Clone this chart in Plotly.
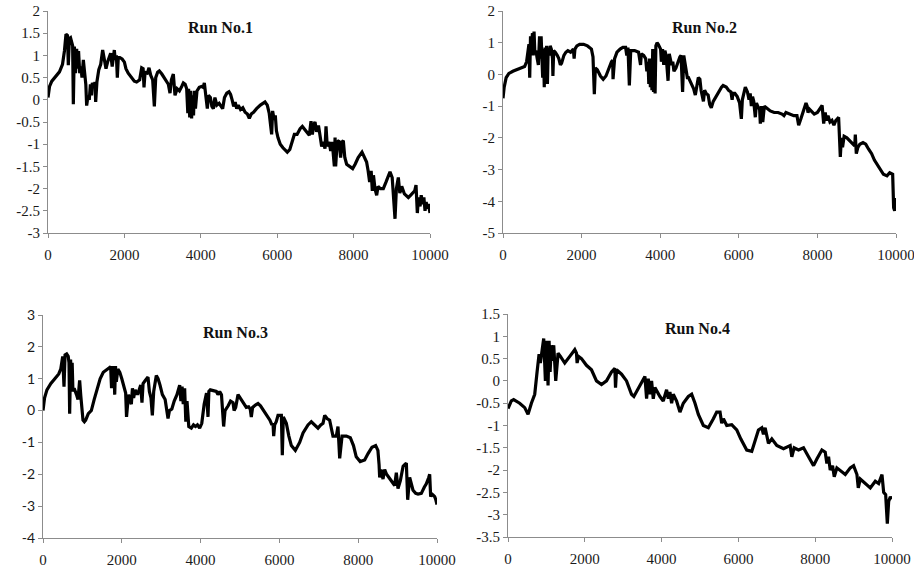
import plotly.graph_objects as go

# ---- Run No.1 ----
run1_x = [0, 40, 100, 200, 300, 380, 430, 471, 510, 532, 560, 590, 620, 645, 663, 690, 720, 750, 780, 800,
          830, 860, 890, 925, 960, 990, 1012, 1050, 1080, 1110, 1140, 1160, 1200, 1230, 1248, 1280, 1330, 1380,
          1431, 1470, 1518, 1560, 1600, 1640, 1680, 1736, 1760, 1790, 1815, 1840, 1880, 1940, 2000, 2040, 2100,
          2180, 2260, 2320, 2400, 2452, 2490, 2513, 2540, 2600, 2644, 2690, 2740, 2784, 2820, 2870, 2914, 2980,
          3040, 3100, 3150, 3194, 3230, 3281, 3325, 3380, 3440, 3500, 3543, 3590, 3630, 3660, 3680, 3710, 3730,
          3760, 3780, 3810, 3830, 3860, 3900, 3960, 4020, 4060, 4093, 4130, 4171, 4200, 4250, 4290, 4328, 4370,
          4420, 4480, 4530, 4572, 4620, 4680, 4738, 4780, 4820, 4860, 4900, 4939, 4980, 5040, 5100, 5160, 5220,
          5270, 5320, 5380, 5460, 5560, 5681, 5740, 5790, 5855, 5880, 5920, 5950, 5980, 6020, 6080, 6150, 6265,
          6330, 6400, 6449, 6520, 6600, 6658, 6740, 6800, 6841, 6885, 6920, 6960, 6990, 7030, 7080, 7120, 7164,
          7210, 7251, 7278, 7310, 7360, 7400, 7440, 7496, 7515, 7530, 7570, 7618, 7660, 7700, 7731, 7770, 7818,
          7870, 7920, 7975, 8040, 8120, 8220, 8260, 8298, 8340, 8380, 8420, 8460, 8490, 8520, 8560, 8604, 8640,
          8700, 8778, 8850, 8910, 8953, 9010, 9050, 9084, 9120, 9171, 9210, 9260, 9330, 9380, 9433, 9490, 9540,
          9600, 9634, 9668, 9700, 9740, 9770, 9810, 9840, 9870, 9900, 9930, 9960, 10000]
run1_y = [0.05, 0.3, 0.42, 0.52, 0.63, 0.8, 1.1, 1.48, 1.45, 0.78, 1.38, 1.4, 1.3, 1.22, -0.1, 1.2, 0.6, 1.15, 0.7, 1.1,
          0.6, 0.75, 0.5, 0.9, 0.6, 0.35, -0.13, 0.1, 0.0, 0.35, 0.1, 0.38, 0.3, 0.4, -0.05, 0.4, 0.68, 0.8,
          1.12, 0.95, 0.7, 0.85, 0.95, 1.05, 0.75, 1.12, 0.9, 1.0, 0.5, 0.95, 0.95, 0.92, 0.85, 0.7, 0.6,
          0.5, 0.42, 0.4, 0.45, 0.72, 0.7, 0.28, 0.62, 0.6, 0.72, 0.55, 0.45, -0.15, 0.5, 0.62, 0.65, 0.58,
          0.5, 0.42, 0.35, 0.15, 0.45, 0.58, 0.1, 0.25, 0.2, 0.3, 0.38, 0.35, 0.25, -0.3, 0.25, -0.4, 0.2,
          -0.42, 0.1, -0.35, 0.2, -0.2, 0.2, 0.28, 0.3, 0.28, 0.38, 0.1, -0.2, 0.1, 0.05, -0.15, -0.2, 0.05,
          -0.12, -0.08, -0.15, -0.2, 0.05, 0.15, 0.18, 0.12, 0.0, -0.15, -0.05, -0.2, -0.12, -0.22, -0.18, -0.28, -0.32,
          -0.42, -0.32, -0.28, -0.2, -0.12, -0.05, -0.12, -0.3, -0.78, -0.25, -0.45, -0.35, -0.7, -0.85, -1.0, -1.08, -1.18,
          -1.12, -0.95, -0.78, -0.78, -0.65, -0.6, -0.68, -0.75, -0.8, -0.48, -0.78, -0.55, -0.5, -0.72, -0.58, -0.8, -1.05,
          -0.95, -1.1, -0.6, -1.05, -0.95, -1.15, -0.95, -1.5, -0.85, -1.5, -0.95, -0.92, -1.3, -0.95, -0.92, -1.3, -1.45,
          -1.48, -1.52, -1.55, -1.45, -1.3, -1.18, -1.25, -1.3, -1.4, -1.6, -1.85, -1.6, -2.05, -1.7, -2.0, -2.15, -1.95,
          -2.0, -2.0, -1.85, -1.7, -1.62, -1.75, -2.2, -2.68, -2.0, -1.75, -2.1, -1.95, -2.12, -2.15, -2.2, -2.15, -2.1,
          -2.05, -1.92, -2.55, -2.2, -2.4, -2.15, -2.35, -2.2, -2.5, -2.3, -2.45, -2.35, -2.55]

# ---- Run No.2 ----
run2_x = [0, 30, 80, 150, 250, 350, 450, 550, 600, 640, 660, 680, 700, 730, 750, 770, 790, 810, 840, 870,
          900, 930, 950, 970, 990, 1010, 1030, 1050, 1070, 1090, 1110, 1130, 1150, 1180, 1200, 1230, 1260, 1270,
          1290, 1330, 1380, 1420, 1460, 1490, 1550, 1600, 1650, 1720, 1790, 1810, 1830, 1880, 1950, 2050, 2150,
          2250, 2290, 2324, 2350, 2400, 2480, 2550, 2620, 2700, 2760, 2790, 2800, 2840, 2900, 2980, 3050, 3120,
          3150, 3180, 3215, 3250, 3350, 3450, 3500, 3520, 3580, 3630, 3660, 3690, 3710, 3730, 3750, 3770, 3790,
          3810, 3830, 3850, 3870, 3890, 3920, 3950, 3980, 4010, 4030, 4060, 4090, 4120, 4150, 4200, 4230, 4260,
          4290, 4320, 4350, 4400, 4450, 4500, 4530, 4570, 4600, 4630, 4660, 4690, 4720, 4760, 4800, 4850, 4894,
          4930, 4970, 5010, 5040, 5100, 5130, 5170, 5220, 5260, 5300, 5350, 5420, 5500, 5560, 5600, 5680, 5740,
          5800, 5830, 5850, 5900, 5960, 6020, 6065, 6090, 6130, 6166, 6220, 6260, 6290, 6320, 6350, 6380, 6420,
          6450, 6480, 6530, 6548, 6580, 6610, 6650, 6700, 6800, 6900, 7000, 7100, 7150, 7200, 7300, 7400, 7480,
          7523, 7580, 7650, 7710, 7740, 7760, 7800, 7850, 7920, 8000, 8050, 8120, 8160, 8200, 8230, 8270, 8320,
          8370, 8420, 8470, 8510, 8540, 8583, 8610, 8640, 8680, 8750, 8830, 8900, 8950, 8965, 8990, 9030, 9080,
          9160, 9230, 9300, 9380, 9450, 9530, 9600, 9680, 9770, 9840, 9915, 9940, 9966, 9985, 10000]
run2_y = [-0.75, -0.4, -0.1, 0.03, 0.1, 0.15, 0.2, 0.25, 0.4, 0.9, 0.95, -0.1, 1.2, 1.0, 1.3, 0.6, 1.35, 0.7, 0.75, 0.5,
          0.3, 1.2, 0.5, 1.2, 0.6, -0.1, 0.8, -0.4, 0.85, -0.2, 0.9, -0.3, 0.85, 0.6, 0.9, 0.8, 0.5, -0.05,
          0.75, 0.7, 0.6, 0.5, 0.3, 0.35, 0.6, 0.7, 0.75, 0.7, 0.8, 0.5, 0.8, 0.9, 0.95, 0.95, 0.9,
          0.8, 0.55, -0.62, 0.2, 0.15, -0.05, -0.15, -0.05, 0.25, 0.4, 0.45, -0.15, 0.5, 0.7, 0.8, 0.85, 0.85,
          0.6, 0.85, -0.35, 0.75, 0.75, 0.7, 0.3, 0.65, 0.6, 0.5, 0.1, 0.4, -0.3, 0.5, -0.4, 0.4, -0.5,
          0.8, -0.55, 0.5, -0.6, 0.9, 1.0, 0.95, 0.85, 0.8, 0.4, 0.8, 0.3, 0.75, 0.6, -0.2, 0.65, 0.4,
          0.3, 0.4, 0.1, 0.2, 0.4, 0.55, 0.6, -0.55, 0.6, 0.4, 0.2, -0.1, -0.1, -0.2, -0.3, -0.45, -0.65,
          -0.3, -0.1, -0.15, -0.5, -0.85, -0.5, -0.6, -0.65, -0.95, -1.05, -0.85, -0.7, -0.5, -0.4, -0.35, -0.4, -0.5,
          -0.55, -0.8, -0.6, -0.6, -0.7, -0.9, -1.4, -0.8, -0.55, -0.4, -0.55, -0.8, -0.6, -1.0, -0.7, -0.85, -1.35,
          -0.9, -1.0, -1.1, -1.55, -1.0, -1.5, -1.0, -1.05, -1.15, -1.2, -1.2, -1.25, -1.3, -1.2, -1.25, -1.3, -1.3,
          -1.6, -1.4, -1.1, -0.9, -1.0, -1.2, -1.1, -1.15, -1.25, -1.2, -1.1, -0.98, -1.55, -1.2, -1.45, -1.3, -1.5,
          -1.45, -1.6, -1.45, -1.4, -1.35, -2.6, -2.0, -2.3, -1.95, -2.0, -2.1, -2.2, -2.25, -1.9, -2.5, -2.3, -2.2,
          -2.15, -2.2, -2.35, -2.5, -2.7, -2.85, -3.0, -3.15, -3.2, -3.1, -3.15, -4.2, -4.3, -3.9, -4.0]

# ---- Run No.3 ----
run3_x = [0, 40, 100, 200, 300, 400, 450, 480, 500, 533, 560, 600, 640, 660, 677, 700, 720, 740, 760, 790,
          820, 850, 888, 930, 960, 990, 1015, 1050, 1083, 1150, 1227, 1300, 1380, 1450, 1530, 1620, 1692, 1720,
          1740, 1760, 1780, 1800, 1820, 1840, 1861, 1900, 1950, 2000, 2060, 2098, 2120, 2170, 2242, 2270, 2300,
          2340, 2400, 2480, 2512, 2540, 2600, 2665, 2700, 2740, 2775, 2810, 2876, 2920, 2970, 3030, 3100, 3173,
          3210, 3270, 3330, 3400, 3469, 3500, 3530, 3560, 3595, 3625, 3655, 3700, 3765, 3820, 3870, 3920, 3976,
          4030, 4090, 4150, 4188, 4210, 4247, 4320, 4400, 4440, 4484, 4530, 4560, 4585, 4620, 4653, 4700, 4760,
          4822, 4850, 4890, 4950, 5000, 5060, 5100, 5160, 5220, 5260, 5287, 5320, 5400, 5457, 5520, 5600, 5680,
          5760, 5810, 5838, 5855, 5880, 5920, 5965, 6050, 6074, 6100, 6176, 6240, 6303, 6404, 6514, 6600, 6726,
          6810, 6900, 6980, 7050, 7107, 7150, 7210, 7275, 7360, 7445, 7487, 7530, 7590, 7700, 7800, 7880, 7950,
          8050, 8164, 8250, 8350, 8443, 8500, 8530, 8545, 8580, 8630, 8672, 8720, 8780, 8840, 8926, 8968, 9010,
          9070, 9140, 9180, 9222, 9256, 9306, 9391, 9460, 9518, 9602, 9680, 9729, 9790, 9814, 9839, 9870, 9898,
          9941, 9970, 10000]
run3_y = [0.0, 0.4, 0.65, 0.85, 1.0, 1.15, 1.3, 1.5, 1.7, 0.75, 1.75, 1.78, 1.7, 1.5, -0.1, 1.6, 1.0, 1.5, 0.6, 0.7,
          0.55, 0.5, 0.35, 0.95, 0.45, 0.1, -0.3, -0.35, -0.3, -0.1, 0.0, 0.35, 0.7, 1.0, 1.2, 1.3, 1.35, 1.3,
          0.7, 1.4, 0.8, 1.4, 0.5, 1.4, 0.9, 1.3, 1.2, 1.0, 0.75, 0.55, -0.2, 0.5, 0.2, 0.7, 0.4,
          0.65, 0.5, 0.8, 0.25, 0.85, 0.95, 1.05, 0.6, 0.4, -0.15, 0.6, 1.1, 1.0, 0.8, 0.5, 0.35, -0.25,
          0.0, 0.05, 0.3, 0.5, 0.8, 0.3, 0.75, 0.2, 0.7, -0.35, 0.3, -0.5, -0.55, -0.45, -0.5, -0.45, -0.55,
          -0.4, 0.2, 0.55, -0.2, 0.6, 0.65, 0.62, 0.6, 0.5, 0.6, 0.5, 0.0, -0.5, 0.0, 0.05, 0.15, 0.3,
          0.25, 0.0, 0.1, 0.5, 0.4, 0.3, 0.2, 0.1, 0.12, 0.05, -0.2, 0.1, 0.18, 0.22, 0.15, 0.0, -0.15,
          -0.3, -0.45, -0.4, -0.8, -0.45, -0.35, -0.15, -0.15, -1.4, -0.2, -0.4, -0.8, -1.1, -1.25, -1.0, -0.7, -0.45,
          -0.35, -0.45, -0.55, -0.45, -0.4, -0.15, -0.25, -0.3, -0.8, -0.8, -0.5, -1.5, -0.8, -0.8, -0.85, -1.1, -1.45,
          -1.6, -1.55, -1.35, -1.15, -1.1, -1.25, -1.7, -2.1, -1.85, -2.15, -1.85, -2.0, -2.1, -2.2, -2.35, -1.95, -2.45,
          -2.2, -1.75, -1.7, -1.65, -2.8, -2.1, -2.5, -2.6, -2.62, -2.6, -2.4, -2.3, -2.1, -2.0, -2.7, -2.62, -2.65,
          -2.7, -2.8, -2.95]

# ---- Run No.4 ----
run4_x = [0, 87, 148, 304, 435, 522, 609, 696, 757, 809, 843, 878, 930, 974, 1009, 1043, 1070, 1096, 1130, 1157,
          1191, 1243, 1304, 1365, 1478, 1609, 1739, 1783, 1800, 1835, 1913, 2043, 2174, 2304, 2435, 2565, 2696,
          2783, 2800, 2826, 2957, 3087, 3217, 3278, 3435, 3565, 3609, 3652, 3696, 3739, 3783, 3826, 3957, 4043,
          4130, 4174, 4217, 4261, 4304, 4391, 4478, 4565, 4696, 4783, 4870, 4957, 5087, 5217, 5348, 5435, 5522,
          5565, 5609, 5696, 5826, 5957, 6061, 6217, 6348, 6435, 6522, 6609, 6652, 6696, 6783, 6870, 7000, 7174,
          7278, 7348, 7391, 7452, 7565, 7696, 7826, 7957, 8043, 8174, 8261, 8304, 8348, 8391, 8452, 8496, 8565,
          8696, 8783, 8913, 9000, 9087, 9122, 9174, 9304, 9435, 9565, 9652, 9739, 9783, 9835, 9878, 9913, 9957,
          10000]
run4_y = [-0.62, -0.45, -0.42, -0.5, -0.6, -0.75, -0.5, -0.3, 0.2, 0.6, 0.4, 0.65, 0.95, 0.0, 0.9, -0.1, 0.9, 0.2, 0.8, 0.45,
          0.8, 0.0, 0.62, 0.55, 0.4, 0.55, 0.7, 0.62, 0.4, 0.55, 0.5, 0.35, 0.25, 0.0, -0.08, 0.0, 0.2,
          0.28, -0.15, 0.25, 0.15, 0.0, -0.3, -0.35, -0.1, 0.1, -0.4, 0.05, -0.3, 0.0, -0.4, -0.15, -0.35, -0.45,
          -0.2, -0.4, -0.25, -0.5, -0.3, -0.45, -0.7, -0.5, -0.35, -0.3, -0.5, -0.75, -1.0, -1.05, -0.85, -0.7, -0.7,
          -0.95, -0.85, -1.0, -0.98, -1.1, -1.3, -1.55, -1.58, -1.35, -1.1, -1.05, -1.2, -1.05, -1.4, -1.3, -1.45, -1.52,
          -1.48, -1.45, -1.7, -1.5, -1.55, -1.5, -1.7, -1.9, -1.75, -1.55, -1.6, -1.85, -1.7, -2.0, -1.9, -2.15, -1.95,
          -2.05, -2.1, -1.95, -1.9, -2.1, -2.4, -2.2, -2.3, -2.4, -2.25, -2.3, -2.1, -2.5, -2.55, -3.2, -2.7, -2.6,
          -2.65]

# ---- axis ticks ----
x_ticks = [0, 2000, 4000, 6000, 8000, 10000]
x_labels = ["0", "2000", "4000", "6000", "8000", "10000"]
y1_ticks = [2, 1.5, 1, 0.5, 0, -0.5, -1, -1.5, -2, -2.5, -3]
y1_labels = ["2", "1.5", "1", "0.5", "0", "-0.5", "-1", "-1.5", "-2", "-2.5", "-3"]
y2_ticks = [2, 1, 0, -1, -2, -3, -4, -5]
y2_labels = ["2", "1", "0", "-1", "-2", "-3", "-4", "-5"]
y3_ticks = [3, 2, 1, 0, -1, -2, -3, -4]
y3_labels = ["3", "2", "1", "0", "-1", "-2", "-3", "-4"]
y4_ticks = [1.5, 1, 0.5, 0, -0.5, -1, -1.5, -2, -2.5, -3, -3.5]
y4_labels = ["1.5", "1", "0.5", "0", "-0.5", "-1", "-1.5", "-2", "-2.5", "-3", "-3.5"]

titles = ["Run No.1", "Run No.2", "Run No.3", "Run No.4"]

W, H = 914, 567
# plot-area boxes in pixels: (left, right, top, bottom)
boxes = [(48, 430, 11, 233), (503, 896, 11, 233), (43, 437, 315, 538), (508, 892, 314, 537)]
title_pos = [(220, 27), (704, 27), (235, 332), (697, 328)]

series = [(run1_x, run1_y), (run2_x, run2_y), (run3_x, run3_y), (run4_x, run4_y)]
y_axes = [(y1_ticks, y1_labels, [-3, 2]), (y2_ticks, y2_labels, [-5, 2]),
          (y3_ticks, y3_labels, [-4, 3]), (y4_ticks, y4_labels, [-3.5, 1.5])]

serif = "Liberation Serif"
axis_grey = "#8c8c8c"
text_col = "#1a1a1a"

fig = go.Figure()
layout = dict(width=W, height=H, margin=dict(l=0, r=0, t=0, b=0, autoexpand=False),
              paper_bgcolor="white", plot_bgcolor="white", showlegend=False)

annotations = []
for i, ((xs, ys), (yt, yl, yr), box) in enumerate(zip(series, y_axes, boxes)):
    n = "" if i == 0 else str(i + 1)
    fig.add_trace(go.Scatter(x=xs, y=ys, mode="lines", xaxis="x" + n, yaxis="y" + n,
                             line=dict(color="black", width=3.2), hoverinfo="skip"))
    l, r, t, b = box
    y_font = dict(family="Lato", size=14, color=text_col) if i == 2 else \
        dict(family=serif, size=15, color=text_col)
    layout["xaxis" + n] = dict(domain=[l / W, r / W], range=[0, 10000], anchor="y" + n,
                               tickvals=x_ticks, ticktext=x_labels, ticks="outside", ticklen=4,
                               tickcolor=axis_grey, showline=True, linecolor=axis_grey, linewidth=1,
                               showgrid=False, zeroline=False, ticklabelstandoff=4, automargin=False,
                               ticklabeloverflow="allow",
                               tickfont=dict(family=serif, size=15, color=text_col))
    layout["yaxis" + n] = dict(domain=[1 - b / H, 1 - t / H], range=yr, anchor="x" + n,
                               tickvals=yt, ticktext=yl, ticks="outside", ticklen=4,
                               tickcolor=axis_grey, showline=True, linecolor=axis_grey, linewidth=1,
                               showgrid=False, zeroline=False, automargin=False,
                               ticklabeloverflow="allow", tickfont=y_font)
    tx, ty = title_pos[i]
    annotations.append(dict(text="<b>" + titles[i] + "</b>", x=tx / W, y=1 - ty / H,
                            xref="paper", yref="paper", showarrow=False,
                            xanchor="center", yanchor="middle",
                            font=dict(family=serif, size=16, color="#111")))

layout["annotations"] = annotations
fig.update_layout(**layout)
fig.write_html("out.html")
